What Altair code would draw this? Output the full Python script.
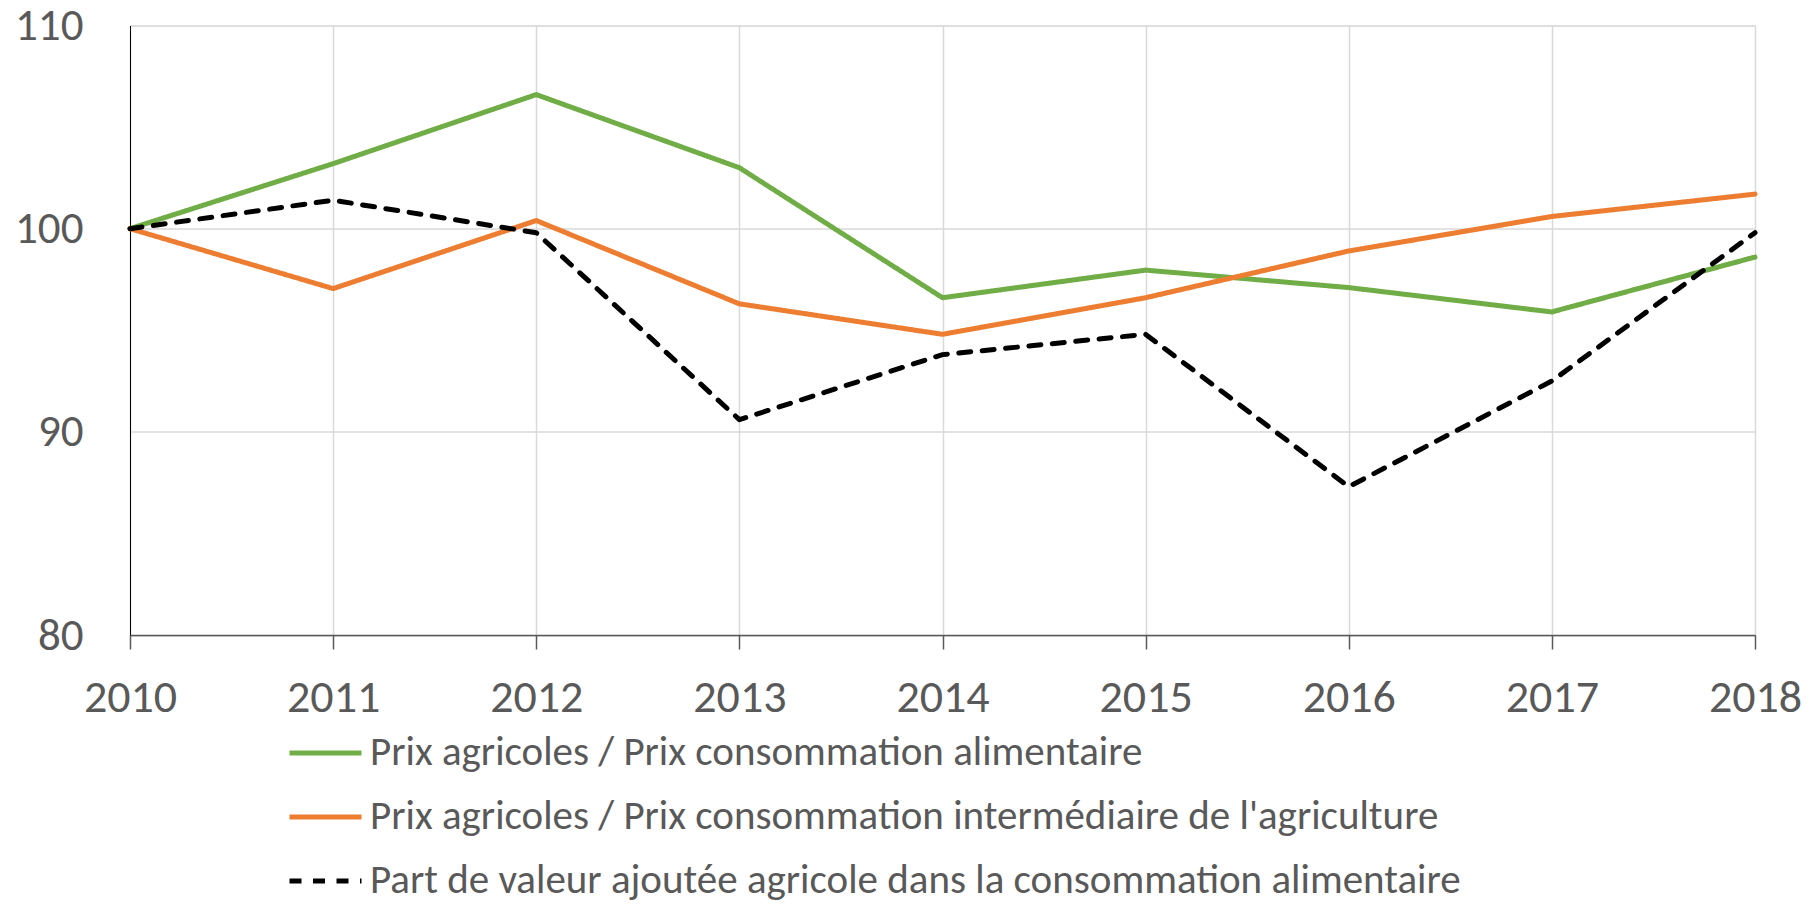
import altair as alt
import pandas as pd

years = [2010, 2011, 2012, 2013, 2014, 2015, 2016, 2017, 2018]
series_names = [
    "Prix agricoles / Prix consommation alimentaire",
    "Prix agricoles / Prix consommation intermédiaire de l'agriculture",
    "Part de valeur ajoutée agricole dans la consommation alimentaire",
]
green_vals = [100.0, 103.2, 106.6, 103.0, 96.6, 97.96, 97.1, 95.9, 98.6]
orange_vals = [100.0, 97.05, 100.4, 96.3, 94.8, 96.6, 98.9, 100.6, 101.7]
black_vals = [100.0, 101.4, 99.8, 90.6, 93.8, 94.8, 87.3, 92.5, 99.8]
colors = ["#70AD47", "#ED7D31", "#000000"]
dashes = [[1, 0], [1, 0], [12, 11.5]]
y_ticks = [80, 90, 100, 110]

rows = []
for name, vals in zip(series_names, [green_vals, orange_vals, black_vals]):
    for yr, v in zip(years, vals):
        rows.append({"annee": yr, "valeur": v, "serie": name})
df = pd.DataFrame(rows)

FONT = "Carlito, Calibri, Lato, sans-serif"
TXT = "#595959"

legend_opts = dict(
    title=None,
    orient="none",
    legendX=157,
    legendY=689,
    direction="vertical",
    symbolType="stroke",
    symbolSize=5184,
    symbolStrokeWidth=5,
    labelFont=FONT,
    labelFontSize=41,
    labelColor=TXT,
    labelLimit=2000,
    labelOffset=6,
    rowPadding=5,
)

chart = (
    alt.Chart(df)
    .mark_line(strokeWidth=5, strokeCap="round", strokeJoin="round")
    .encode(
        x=alt.X(
            "annee:Q",
            scale=alt.Scale(domain=[2010, 2018], nice=False, zero=False),
            axis=alt.Axis(
                title=None,
                values=years,
                format="d",
                grid=True,
                gridColor="#d9d9d9",
                gridWidth=1.5,
                domainColor="#595959",
                domainWidth=1.5,
                tickColor="#595959",
                tickWidth=1.5,
                tickSize=14,
                labelPadding=26,
                labelFlush=False,
                labelOverlap=False,
                labelFont=FONT,
                labelFontSize=46,
                labelColor=TXT,
            ),
        ),
        y=alt.Y(
            "valeur:Q",
            scale=alt.Scale(domain=[80, 110], nice=False, zero=False),
            axis=alt.Axis(
                title=None,
                values=y_ticks,
                grid=True,
                gridColor="#d9d9d9",
                gridWidth=1.5,
                domainColor="#000000",
                domainWidth=1,
                ticks=False,
                labelPadding=47,
                labelFlush=False,
                labelFont=FONT,
                labelFontSize=45,
                labelColor=TXT,
            ),
        ),
        color=alt.Color(
            "serie:N",
            sort=series_names,
            scale=alt.Scale(domain=series_names, range=colors),
            legend=alt.Legend(**legend_opts),
        ),
        strokeDash=alt.StrokeDash(
            "serie:N",
            sort=series_names,
            scale=alt.Scale(domain=series_names, range=dashes),
            legend=alt.Legend(**legend_opts),
        ),
    )
    .properties(
        width=1625,
        height=609.5,
        autosize=alt.AutoSizeParams(type="none"),
        padding={"left": 122, "top": 17.5, "right": 50, "bottom": 268},
    )
    .configure_view(stroke=None)
    .configure(background="white")
)

chart.save("out.html", embed_options={"renderer": "svg", "actions": False})
